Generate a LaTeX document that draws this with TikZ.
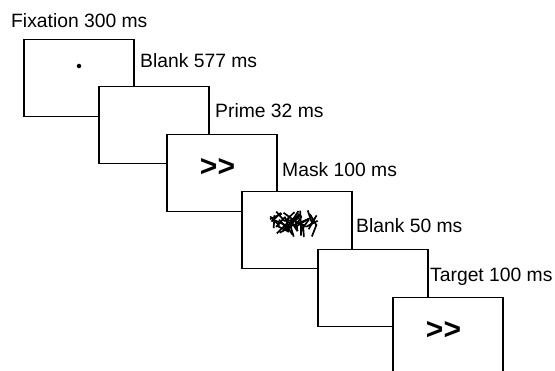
\documentclass[tikz,border=0pt]{standalone}
\usepackage{fontspec}
\setmainfont{Liberation Sans}

\begin{document}
\begin{tikzpicture}[x=1pt, y=-1pt,
		screen/.style={draw, fill=white, line width=1.5pt, minimum width=110pt, minimum height=77pt, inner sep=0pt, anchor=north west},
		timing/.style={anchor=base west, inner sep=0pt, font=\fontsize{19.3}{22}\selectfont},
		chevrons/.style={inner sep=0pt, font=\fontsize{30}{30}\selectfont\bfseries}]
		\useasboundingbox (0,0) rectangle (555,371);
		
		% Draw the screens, each one over the one before
		\foreach \n/\x/\y in {1/23/39, 2/98/86, 3/166/134, 4/241/191, 5/317/249, 6/392/297} {
			\node[screen] (s\n) at (\x,\y) {};
		}
		
		% What each screen shows
		\node[circle, fill, inner sep=1.6pt] (dot) at (79,66) {};
		\node[chevrons] (prime) at (217.5,167.5) {>{}>};
		\node[chevrons] (target) at (443.5,330.5) {>{}>};
		
		% Mask: short random strokes
		\pgfmathsetseed{41}
		\foreach \k in {1, 2, ..., 42} {
			\pgfmathsetmacro{\mx}{274 + rnd * 41}
			\pgfmathsetmacro{\my}{216 + rnd * 15}
			\pgfmathsetmacro{\ma}{20 + rnd * 140}
			\draw[line width=1.7pt] (\mx,\my) ++(\ma:6.5) -- ++(\ma+180:13);
		}
		
		% Timing labels
		\node[timing] (fix) at (11,28) {Fixation 300 ms};
		\node[timing] (blankA) at (140,68) {Blank 577 ms};
		\node[timing] (prm) at (215,118) {Prime 32 ms};
		\node[timing] (msk) at (282,177) {Mask 100 ms};
		\node[timing] (blankB) at (356,233) {Blank 50 ms};
		\node[timing] (tgt) at (430,282) {Target 100 ms};
	\end{tikzpicture}
\end{document}
